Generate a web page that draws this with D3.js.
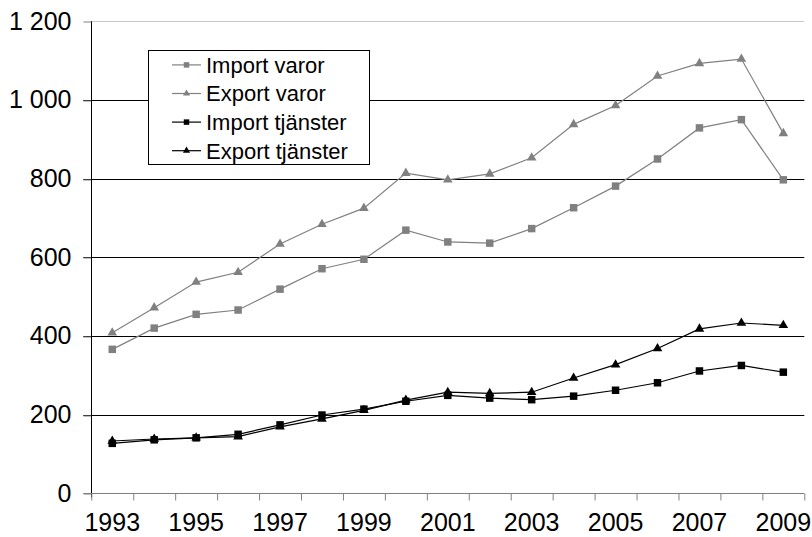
<!DOCTYPE html>
<html>
<head>
<meta charset="utf-8">
<script src="https://cdn.jsdelivr.net/npm/d3@7"></script>
<style>
  body { margin: 0; background: #fff; }
  text { font-family: "Liberation Sans", Arial, sans-serif; fill: #000; }
</style>
</head>
<body>
<div id="chart"></div>
<script>
// data
const years = [1993, 1994, 1995, 1996, 1997, 1998, 1999, 2000, 2001, 2002, 2003, 2004, 2005, 2006, 2007, 2008, 2009];
const importVaror = [366, 420, 455, 466, 519, 571, 595, 669, 639, 636, 673, 726, 781, 850, 929, 950, 797];
const exportVaror = [408, 472, 537, 562, 634, 684, 725, 814, 797, 812, 853, 938, 986, 1061, 1093, 1104, 915];
const importTjanster = [127, 136, 141, 150, 174, 199, 214, 234, 249, 242, 238, 247, 262, 281, 311, 325, 308];
const exportTjanster = [133, 138, 141, 144, 169, 189, 211, 237, 257, 254, 257, 293, 327, 368, 418, 433, 427];
const yTicks = [0, 200, 400, 600, 800, 1000, 1200];
const xLabels = years.filter(y => y % 2 === 1);

const series = [
    {name: "Import varor", values: importVaror, color: "#808080", symbol: d3.symbolSquare},
    {name: "Export varor", values: exportVaror, color: "#808080", symbol: d3.symbolTriangle},
    {name: "Import tjänster", values: importTjanster, color: "#000000", symbol: d3.symbolSquare},
    {name: "Export tjänster", values: exportTjanster, color: "#000000", symbol: d3.symbolTriangle}
];

const W = 812, H = 537;
const plot = {left: 91.3, right: 804.3, top: 21.3, bottom: 493.3};

const svg = d3.select("#chart")
    .append("svg")
    .attr("width", W)
    .attr("height", H);

const xScale = d3.scaleBand().domain(years).range([plot.left, plot.right]).paddingInner(0).paddingOuter(0);
const yScale = d3.scaleLinear().domain([0, 1200]).range([plot.bottom, plot.top]);
const fmt = d3.formatLocale({thousands: " ", grouping: [3], decimal: ",", currency: ["", ""]}).format(",");

// gridlines (top one is light)
svg.append("g")
    .selectAll("line")
    .data(yTicks.filter(d => d > 0))
    .enter()
    .append("line")
    .attr("x1", d => d === 1200 ? plot.left : plot.left - 8)
    .attr("x2", plot.right)
    .attr("y1", d => Math.round(yScale(d)) + 0.5)
    .attr("y2", d => Math.round(yScale(d)) + 0.5)
    .attr("stroke", d => d === 1200 ? "#c8c8c8" : "#000")
    .attr("stroke-width", 1);

// y axis
const yAxis = d3.axisLeft(yScale).tickValues(yTicks).tickSize(8).tickPadding(12).tickFormat(fmt);
const yAxisG = svg.append("g")
    .attr("transform", `translate(${Math.round(plot.left) + 0.5},0)`)
    .call(yAxis);
yAxisG.select(".domain").remove();
yAxisG.selectAll(".tick line").attr("stroke", "#808080")
    .attr("transform", d => `translate(0,${Math.round(yScale(d)) + 0.5 - yScale(d)})`);
yAxisG.selectAll(".tick text")
    .style("font-size", "25px")
    .style("font-family", "'Liberation Sans', Arial, sans-serif");
svg.append("line")
    .attr("x1", Math.round(plot.left) + 0.5).attr("x2", Math.round(plot.left) + 0.5)
    .attr("y1", plot.top).attr("y2", plot.bottom + 4)
    .attr("stroke", "#000");

// x axis: ticks at category boundaries, labels on odd years
const xBounds = d3.scaleLinear().domain([0, years.length]).range([plot.left, plot.right]);
const xTickAxis = d3.axisBottom(xBounds).tickValues(d3.range(years.length + 1)).tickSize(7).tickFormat("");
const xTickG = svg.append("g")
    .attr("transform", `translate(0,${Math.round(plot.bottom) + 0.5})`)
    .call(xTickAxis);
xTickG.select(".domain").attr("stroke", "#808080").attr("d", `M${plot.left - 8},0H${plot.right}`);
xTickG.selectAll(".tick line").attr("stroke", "#808080");

const xAxis = d3.axisBottom(xScale).tickValues(xLabels).tickSize(0).tickPadding(0);
const xAxisG = svg.append("g")
    .attr("transform", `translate(0,${plot.bottom})`)
    .call(xAxis);
xAxisG.select(".domain").remove();
xAxisG.selectAll(".tick text")
    .attr("dy", null)
    .attr("y", 38)
    .style("font-size", "25px")
    .style("font-family", "'Liberation Sans', Arial, sans-serif");

// lines and markers
const line = d3.line()
    .x((d, i) => xScale(years[i]) + xScale.bandwidth() / 2)
    .y(d => yScale(d));

series.forEach(s => {
    svg.append("path")
        .datum(s.values)
        .attr("fill", "none")
        .attr("stroke", s.color)
        .attr("stroke-width", 1.2)
        .attr("d", line);

    svg.append("g")
        .selectAll("path")
        .data(s.values)
        .enter()
        .append("path")
        .attr("transform", (d, i) => `translate(${xScale(years[i]) + xScale.bandwidth() / 2},${yScale(d)})`)
        .attr("d", d3.symbol().type(s.symbol).size(s.symbol === d3.symbolSquare ? 56 : 40))
        .attr("fill", s.color);
});

// legend
const legend = svg.append("g");
legend.append("rect")
    .attr("x", 148.5).attr("y", 50.5)
    .attr("width", 221).attr("height", 114)
    .attr("fill", "#fff")
    .attr("stroke", "#000")
    .attr("stroke-width", 1);

const rowY = i => 64.9 + i * 28.6;
legend.selectAll("line.leg")
    .data(series)
    .enter()
    .append("line")
    .attr("x1", 172).attr("x2", 201)
    .attr("y1", (d, i) => rowY(i)).attr("y2", (d, i) => rowY(i))
    .attr("stroke", d => d.color)
    .attr("stroke-width", 1.2);

legend.selectAll("path.leg")
    .data(series)
    .enter()
    .append("path")
    .attr("transform", (d, i) => `translate(186.5,${rowY(i)})`)
    .attr("d", d => d3.symbol().type(d.symbol).size(d.symbol === d3.symbolSquare ? 30 : 22)())
    .attr("fill", d => d.color);

legend.selectAll("text")
    .data(series)
    .enter()
    .append("text")
    .attr("x", 206)
    .attr("y", (d, i) => rowY(i) + 7.8)
    .style("font-size", "22px")
    .text(d => d.name);
</script>
</body>
</html>
